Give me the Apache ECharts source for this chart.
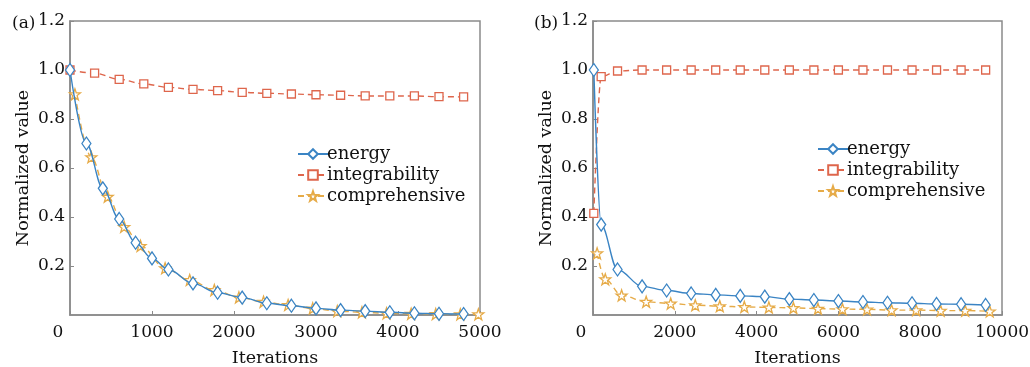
<!DOCTYPE html>
<html>
<head>
<meta charset="utf-8">
<script src="https://cdn.jsdelivr.net/npm/echarts@6/dist/echarts.min.js"></script>
<style>
  html, body { margin: 0; padding: 0; background: #fff; }
  #chart { width: 1030px; height: 367px; }
</style>
</head>
<body>
<div id="chart"></div>
<script>
// panel (a)
const aEnergyX = [0, 200, 400, 600, 800, 1000, 1200, 1500, 1800, 2100, 2400, 2700, 3000, 3300, 3600, 3900, 4200, 4500, 4800];
const aEnergyY = [1.0, 0.70, 0.517, 0.392, 0.295, 0.231, 0.186, 0.129, 0.091, 0.071, 0.048, 0.038, 0.027, 0.020, 0.016, 0.011, 0.007, 0.005, 0.004];
const aIntegX = [0, 300, 600, 900, 1200, 1500, 1800, 2100, 2400, 2700, 3000, 3300, 3600, 3900, 4200, 4500, 4800];
const aIntegY = [1.0, 0.987, 0.962, 0.943, 0.929, 0.921, 0.916, 0.909, 0.905, 0.902, 0.899, 0.897, 0.894, 0.894, 0.894, 0.891, 0.890];
const aCompX = [60, 260, 460, 660, 860, 1160, 1460, 1760, 2060, 2360, 2660, 2960, 3260, 3560, 3860, 4160, 4460, 4760, 4980];
const aCompY = [0.901, 0.644, 0.483, 0.360, 0.282, 0.191, 0.143, 0.102, 0.072, 0.054, 0.041, 0.027, 0.016, 0.011, 0.007, 0.005, 0.004, 0.003, 0.003];

// panel (b)
const bEnergyX = [20, 200, 600, 1200, 1800, 2400, 3000, 3600, 4200, 4800, 5400, 6000, 6600, 7200, 7800, 8400, 9000, 9600];
const bEnergyY = [1.0, 0.369, 0.186, 0.117, 0.100, 0.088, 0.082, 0.078, 0.075, 0.065, 0.061, 0.057, 0.053, 0.050, 0.048, 0.045, 0.044, 0.041];
const bIntegX = [20, 200, 600, 1200, 1800, 2400, 3000, 3600, 4200, 4800, 5400, 6000, 6600, 7200, 7800, 8400, 9000, 9600];
const bIntegY = [0.415, 0.973, 0.996, 1.0, 1.0, 1.0, 1.0, 1.0, 1.0, 1.0, 1.0, 1.0, 1.0, 1.0, 1.0, 1.0, 1.0, 1.0];
const bCompX = [100, 300, 700, 1300, 1900, 2500, 3100, 3700, 4300, 4900, 5500, 6100, 6700, 7300, 7900, 8500, 9100, 9700];
const bCompY = [0.252, 0.146, 0.080, 0.054, 0.047, 0.040, 0.036, 0.033, 0.031, 0.029, 0.026, 0.024, 0.023, 0.020, 0.020, 0.018, 0.018, 0.015];

const seriesNames = ["energy", "integrability", "comprehensive"];

const BLUE = "#3a84c4";
const RED = "#de664c";
const ORANGE = "#e6ab48";
const AXIS = "#8a8a8a";
const FONT = "DejaVu Serif";
const STAR = "path://M50 0 L61.76 33.82 L97.55 34.55 L69.02 56.18 L79.39 90.45 L50 70 L20.61 90.45 L30.98 56.18 L2.45 34.55 L38.24 33.82 Z";

const zip = (xs, ys) => xs.map((x, i) => [x, ys[i]]);

const chart = echarts.init(document.getElementById("chart"));

function xAxisFor(gridIndex, max, interval) {
  return {
    type: "value",
    gridIndex,
    min: 0,
    max,
    interval,
    name: "Iterations",
    nameLocation: "middle",
    nameGap: 34,
    nameTextStyle: { fontFamily: FONT, fontSize: 17.5, color: "#111" },
    axisLine: { show: true, lineStyle: { color: AXIS, width: 1.5 } },
    axisTick: { show: true, inside: true, length: 4, lineStyle: { color: AXIS } },
    splitLine: { show: false },
    axisLabel: {
      fontFamily: FONT,
      fontSize: 17,
      color: "#111",
      margin: 9,
      formatter: (v) => (v === 0 ? "{z|0}" : String(v)),
      rich: { z: { fontFamily: FONT, fontSize: 17, color: "#111", padding: [0, 24, 0, 0] } },
    },
  };
}

function yAxisFor(gridIndex) {
  return {
    type: "value",
    gridIndex,
    min: 0,
    max: 1.2,
    interval: 0.2,
    name: "Normalized value",
    nameLocation: "middle",
    nameGap: 38,
    nameTextStyle: { fontFamily: FONT, fontSize: 17.5, color: "#111" },
    axisLine: { show: true, lineStyle: { color: AXIS, width: 1.5 } },
    axisTick: { show: true, inside: true, length: 4, lineStyle: { color: AXIS } },
    splitLine: { show: false },
    axisLabel: {
      fontFamily: FONT,
      fontSize: 17,
      color: "#111",
      margin: 5,
      showMinLabel: false,
      formatter: (v) => v.toFixed(1),
    },
  };
}

function lineSeries(name, idx, data, color, dashed, symbol, size) {
  return {
    type: "line",
    name,
    xAxisIndex: idx,
    yAxisIndex: idx,
    data,
    smooth: 0.35,
    smoothMonotone: "x",
    symbol,
    symbolSize: size,
    showAllSymbol: true,
    lineStyle: { color, width: 1.4, type: dashed ? [6, 4] : "solid" },
    itemStyle: { color: "#fff", borderColor: color, borderWidth: 1.3 },
    z: name === "energy" ? 3 : 2,
  };
}

function legendFor(left, top) {
  return {
    left,
    top,
    orient: "vertical",
    itemWidth: 30,
    itemHeight: 12,
    itemGap: 3,
    data: seriesNames,
    textStyle: { fontFamily: FONT, fontSize: 18, color: "#111", padding: [0, 0, 0, -6] },
  };
}

chart.setOption({
  animation: false,
  backgroundColor: "#fff",
  title: [
    { text: "(a)", left: 7, top: 10, textStyle: { fontFamily: FONT, fontSize: 17, fontWeight: "normal", color: "#111" } },
    { text: "(b)", left: 529, top: 10, textStyle: { fontFamily: FONT, fontSize: 17, fontWeight: "normal", color: "#111" } },
  ],
  grid: [
    { left: 70, top: 21, width: 410, height: 294, show: true, borderColor: AXIS, borderWidth: 1.5, outerBoundsMode: "none" },
    { left: 593, top: 21, width: 409, height: 294, show: true, borderColor: AXIS, borderWidth: 1.5, outerBoundsMode: "none" },
  ],
  legend: [legendFor(292, 140), legendFor(812, 135)],
  xAxis: [xAxisFor(0, 5000, 1000), xAxisFor(1, 10000, 2000)],
  yAxis: [yAxisFor(0), yAxisFor(1)],
  series: [
    lineSeries("energy", 0, zip(aEnergyX, aEnergyY), BLUE, false, "diamond", [9, 13]),
    lineSeries("integrability", 0, zip(aIntegX, aIntegY), RED, true, "rect", 8),
    lineSeries("comprehensive", 0, zip(aCompX, aCompY), ORANGE, true, STAR, 11),
    lineSeries("energy", 1, zip(bEnergyX, bEnergyY), BLUE, false, "diamond", [9, 13]),
    lineSeries("integrability", 1, zip(bIntegX, bIntegY), RED, true, "rect", 8),
    lineSeries("comprehensive", 1, zip(bCompX, bCompY), ORANGE, true, STAR, 11),
  ],
});
</script>
</body>
</html>
